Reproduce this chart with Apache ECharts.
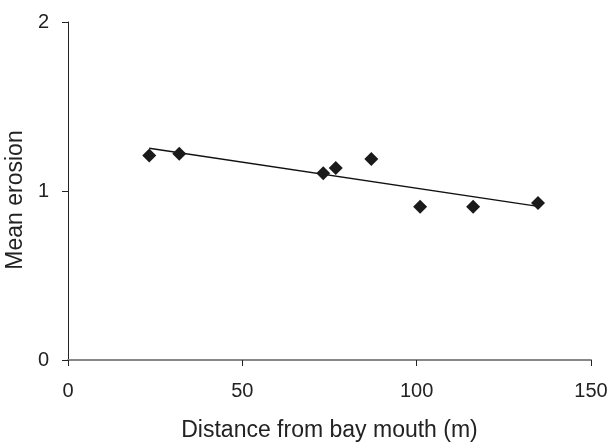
<!DOCTYPE html>
<html><head><meta charset="utf-8">
<script src="https://cdn.jsdelivr.net/npm/echarts@6/dist/echarts.min.js"></script>
<style>html,body{margin:0;padding:0;background:#fff}#c{width:611px;height:444px}</style>
</head><body><div id="c"></div>
<script>
var distance = [23.3, 31.9, 73.2, 76.8, 87.0, 101.0, 116.2, 134.8];
var erosion = [1.21, 1.22, 1.105, 1.136, 1.19, 0.907, 0.907, 0.929];
var trendX = [23.3, 134.8];
var trendY = [1.253, 0.909];
var xTicks = [0, 50, 100, 150];
var yTicks = [0, 1, 2];

var chart = echarts.init(document.getElementById('c'));
var font = 'Liberation Sans, Arial, sans-serif';
chart.setOption({
  animation: false,
  grid: {left: 68, right: 20, top: 22, bottom: 84, containLabel: false, outerBoundsMode: 'none'},
  xAxis: {
    type: 'value', min: xTicks[0], max: xTicks[xTicks.length-1], interval: 50,
    name: 'Distance from bay mouth (m)', nameLocation: 'middle', nameGap: 59,
    nameTextStyle: {fontFamily: font, fontSize: 23, color: '#222'},
    axisLine: {lineStyle: {color: '#888', width: 2}},
    axisTick: {show: true, length: 6, lineStyle: {color: '#222', width: 1}},
    axisLabel: {fontFamily: font, fontSize: 20, color: '#222', margin: 21},
    splitLine: {show: false}
  },
  yAxis: {
    type: 'value', min: yTicks[0], max: yTicks[yTicks.length-1], interval: 1,
    name: 'Mean erosion', nameLocation: 'middle', nameGap: 34, nameRotate: 90,
    nameTextStyle: {fontFamily: font, fontSize: 23, color: '#222', padding: [0, 18, 0, 0]},
    axisLine: {show: true, lineStyle: {color: '#222', width: 1}},
    axisTick: {show: true, length: 6, lineStyle: {color: '#222', width: 1}},
    axisLabel: {fontFamily: font, fontSize: 20, color: '#222', margin: 19},
    splitLine: {show: false}
  },
  series: [
    {type: 'line', data: trendX.map(function(x,i){return [x, trendY[i]];}),
     showSymbol: false, symbol: 'none', lineStyle: {color: '#111', width: 1.5}, z: 2},
    {type: 'scatter', data: distance.map(function(x,i){return [x, erosion[i]];}),
     symbol: 'diamond', symbolSize: 14, itemStyle: {color: '#1a1a1a', opacity: 1}, z: 3}
  ]
});
</script></body></html>
